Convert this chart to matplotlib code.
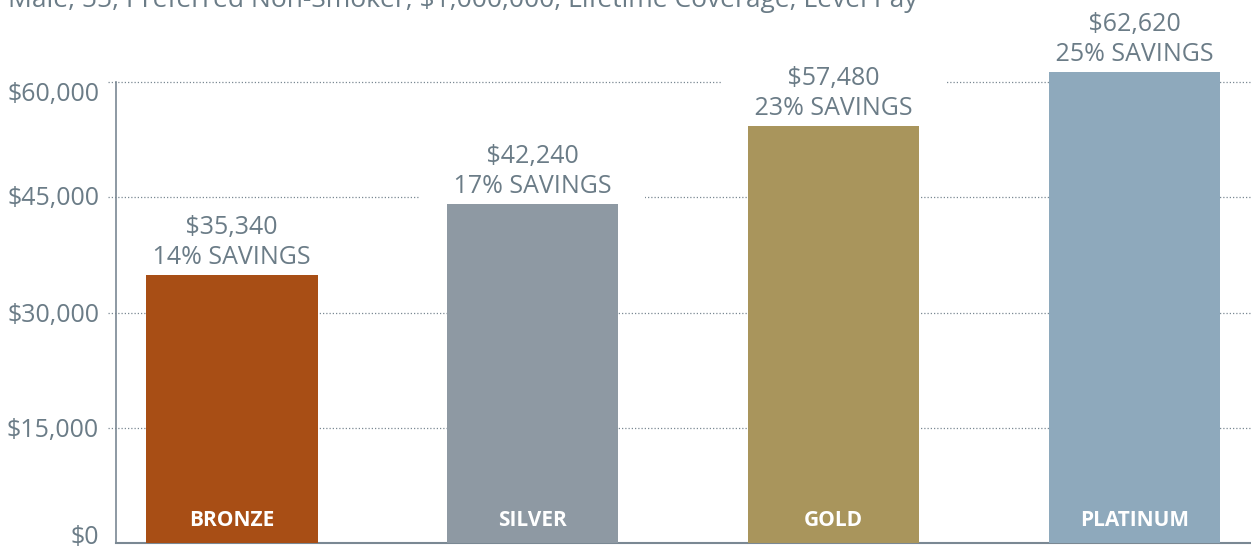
import matplotlib
matplotlib.use("Agg")
import matplotlib.pyplot as plt
import matplotlib.transforms as mtransforms

# ---- data ----
tiers = ["BRONZE", "SILVER", "GOLD", "PLATINUM"]
bar_heights = [34900, 44100, 54300, 61300]          # bar heights as drawn in the picture
premium_labels = ["$35,340", "$42,240", "$57,480", "$62,620"]
savings_labels = ["14% SAVINGS", "17% SAVINGS", "23% SAVINGS", "25% SAVINGS"]
ytick_values = [0, 15000, 30000, 45000, 60000]
ytick_labels = ["$0", "$15,000", "$30,000", "$45,000", "$60,000"]
title = "Male, 55, Preferred Non-Smoker, $1,000,000, Lifetime Coverage, Level Pay"

colors = ["#A84E15", "#8E99A3", "#A9955C", "#8EA9BC"]
text_color = "#6B7C87"
line_color = "#7A8893"

W, H = 1251, 548
fig = plt.figure(figsize=(W / 100, H / 100), dpi=100)
plt.rcParams["font.family"] = ["Open Sans", "DejaVu Sans"]

ax_left, ax_bottom = 116, 5
ax = fig.add_axes([ax_left / W, ax_bottom / H, (W - ax_left) / W, (H - ax_bottom) / H])
ax_w_px = W - ax_left

ymax = 60000 * (H - ax_bottom) / 461.0
ax.set_ylim(0, ymax)
ax.set_xlim(-0.385, 3.388)

x = list(range(len(tiers)))
ax.bar(x, bar_heights, width=0.57, color=colors, zorder=3)

# gridlines (dotted, extending slightly left of the spine)
ax.hlines(ytick_values[1:], xmin=-8 / ax_w_px, xmax=1,
          transform=ax.get_yaxis_transform(), clip_on=False,
          colors=line_color, linestyles=(0, (1, 1.6)), linewidth=0.9, zorder=1)

ax.set_yticks(ytick_values)
ax.set_yticklabels(ytick_labels)
ax.tick_params(axis="y", length=0, pad=12.2, labelsize=18, labelcolor=text_color)
ax.set_xticks([])

for s in ["top", "right"]:
    ax.spines[s].set_visible(False)
ax.spines["left"].set_bounds(0, 60000)
ax.spines["left"].set_color(line_color)
ax.spines["bottom"].set_color(line_color)
ax.spines["left"].set_linewidth(1.2)
ax.spines["bottom"].set_linewidth(1.5)

# small per-label vertical nudges (pixels, positive = down)
nudges = {60000: 9, 45000: -2, 0: -9}
for val, lab in zip(ytick_values, ax.get_yticklabels()):
    if val in nudges:
        lab.set_transform(lab.get_transform() +
                          mtransforms.ScaledTranslation(0, -nudges[val] / 100, fig.dpi_scale_trans))

# value labels above bars
pad_sp = "     "
for xi, h, p, s in zip(x, bar_heights, premium_labels, savings_labels):
    ax.annotate(f"{pad_sp}{p}{pad_sp}\n{pad_sp}{s}{pad_sp}", xy=(xi, h),
                xytext=(0, 3.5), textcoords="offset points",
                ha="center", va="bottom", fontsize=18, color=text_color,
                linespacing=1.28, zorder=2,
                bbox=dict(boxstyle="square,pad=0.05", facecolor="white", edgecolor="none"))

# tier names inside bars
for xi, t in zip(x, tiers):
    ax.annotate(t, xy=(xi, 0), xytext=(0, 12.2), textcoords="offset points",
                ha="center", va="baseline", fontsize=15, fontweight="bold",
                color="white", zorder=4)

fig.text(8 / W, 1 - 7 / H, title, ha="left", va="baseline",
         fontsize=19, color=text_color)

fig.savefig("out.png", dpi=100)
